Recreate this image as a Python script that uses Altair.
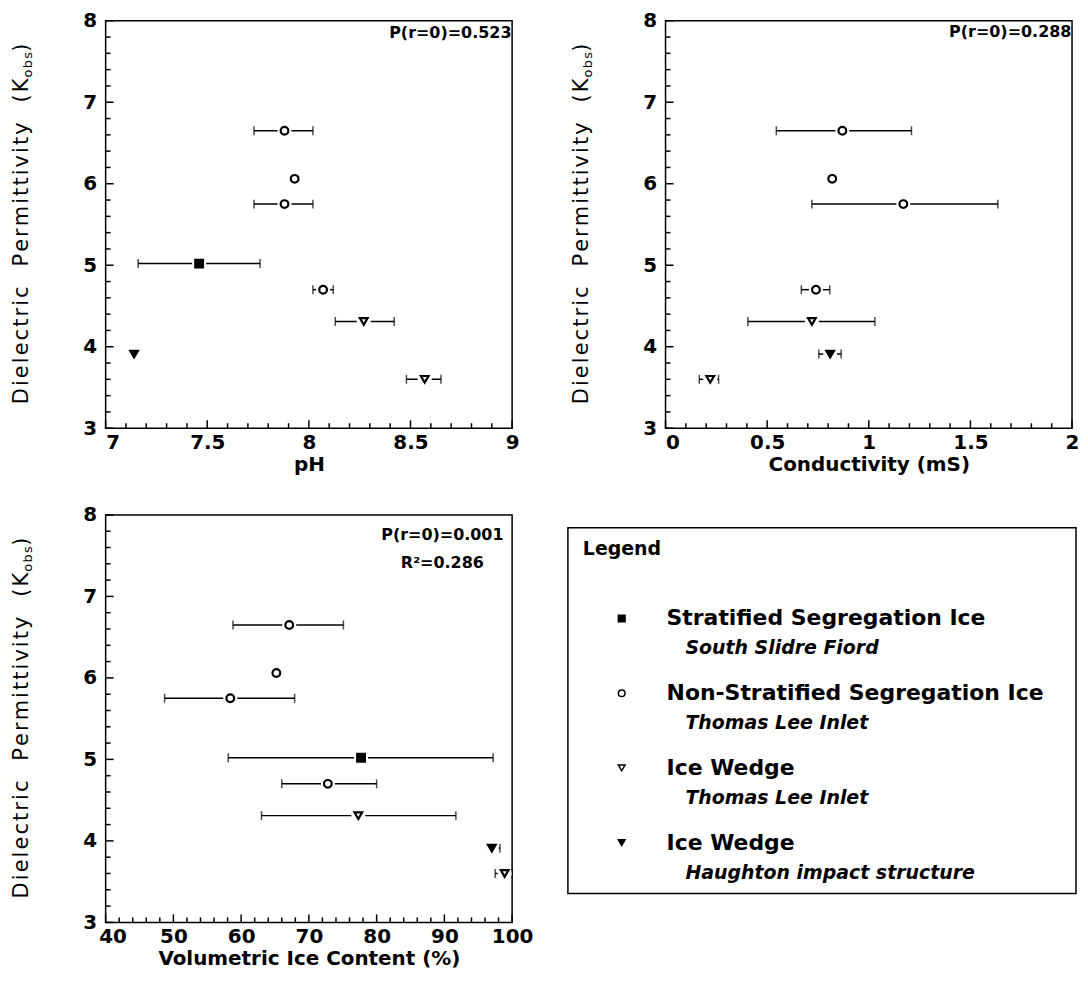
import altair as alt
import pandas as pd

FONT = "DejaVu Sans"

# ---------------- data ----------------
type_keys = ["SS", "NS", "IW", "IWH"]
legend_names = ["Stratified Segregation Ice", "Non-Stratified Segregation Ice", "Ice Wedge", "Ice Wedge"]
legend_sites = ["South Slidre Fiord", "Thomas Lee Inlet", "Thomas Lee Inlet", "Haughton impact structure"]
shape_range = ["square", "circle", "triangle-down", "triangle-down"]
fill_range = ["black", "white", "white", "black"]
size_range = [60, 60, 115, 115]

sample_type = ["NS", "NS", "NS", "SS", "NS", "IW", "IWH", "IW"]
sample_k = [6.65, 6.06, 5.75, 5.02, 4.70, 4.31, 3.91, 3.60]

ph_x = [7.88, 7.93, 7.88, 7.46, 8.07, 8.27, 7.14, 8.57]
ph_lo = [7.73, None, 7.73, 7.16, 8.02, 8.13, None, 8.48]
ph_hi = [8.02, None, 8.02, 7.76, 8.12, 8.42, None, 8.65]

cond_x = [0.87, 0.82, 1.17, None, 0.74, 0.72, 0.81, 0.22]
cond_lo = [0.545, None, 0.72, None, 0.668, 0.405, 0.754, 0.166]
cond_hi = [1.21, None, 1.635, None, 0.808, 1.03, 0.864, 0.261]

ice_x = [67.1, 65.2, 58.4, 77.7, 72.8, 77.3, 97.0, 98.9]
ice_lo = [58.8, None, 48.7, 58.1, 66.0, 63.0, 96.3, 97.5]
ice_hi = [75.1, None, 67.9, 97.2, 80.0, 91.7, 98.2, 100.0]

ph_ticks = [7, 7.5, 8, 8.5, 9]
cond_ticks = [0, 0.5, 1, 1.5, 2]
ice_ticks = [40, 50, 60, 70, 80, 90, 100]
k_ticks = [3, 4, 5, 6, 7, 8]

ph_stats = ["P(r=0)=0.523"]
cond_stats = ["P(r=0)=0.288"]
ice_stats = ["P(r=0)=0.001", "R\u00b2=0.286"]

NB = "\u00a0"
HS = "\u200a"


def spaced(s):
    return HS.join(list(s))


ytitle_main = spaced("Dielectric") + NB * 3 + spaced("Permittivity") + NB * 3 + spaced("(K")
ytitle_sub = spaced("obs")

W, H = 408, 409


def minor_vals(lo, hi, step, majors):
    n = int(round((hi - lo) / step))
    vals = [round(lo + i * step, 4) for i in range(n + 1)]
    return [v for v in vals if all(abs(v - m) > 1e-6 for m in majors)]


def panel(xv, lo, hi, xdom, major, step, xtitle, stats, stats_x, stats_y, yt_x, yt_end):
    df = pd.DataFrame({"type": sample_type, "k": sample_k, "x": xv, "lo": lo, "hi": hi})
    df = df.dropna(subset=["x"])
    err = df.dropna(subset=["lo"])
    xs = alt.Scale(domain=xdom, nice=False, zero=False)
    ys = alt.Scale(domain=[3, 8], nice=False, zero=False)
    xminor = minor_vals(xdom[0], xdom[1], step, major)
    yminor = minor_vals(3, 8, 0.2, k_ticks)

    first_off = {"condition": {"test": "datum.value == %s" % major[0], "value": 7}, "value": 0}
    main_x = alt.Axis(values=major, orient="bottom", labelExpr="datum.value + ''", title=xtitle,
                      domain=False, ticks=False, grid=False, labelFlush=False, labelFontSize=20,
                      labelFontWeight="bold", labelPadding=4, labelOffset=first_off,
                      titleFontSize=20, titleFontWeight="bold",
                      titlePadding=2, labelFont=FONT, titleFont=FONT, labelColor="black",
                      titleColor="black")
    main_y = alt.Axis(values=k_ticks, orient="left", title=None, domain=False, ticks=False, grid=False,
                      labelFlush=False, labelFontSize=20, labelFontWeight="bold", labelPadding=9,
                      labelFont=FONT, labelColor="black")

    rules = alt.Chart(err).mark_rule(strokeWidth=1.5, color="black").encode(
        x=alt.X("lo:Q", scale=xs, axis=main_x),
        x2="hi:Q",
        y=alt.Y("k:Q", scale=ys, axis=main_y),
    )
    caps = alt.Chart(err).transform_fold(["lo", "hi"], as_=["end", "v"]).mark_tick(
        orient="vertical", thickness=1.5, size=9, color="black").encode(
        x=alt.X("v:Q", scale=xs, axis=None),
        y=alt.Y("k:Q", scale=ys, axis=None),
    )
    halo = alt.Chart(df).mark_point(shape="circle", filled=True, color="white", size=200, opacity=1).encode(
        x=alt.X("x:Q", scale=xs, axis=None),
        y=alt.Y("k:Q", scale=ys, axis=None),
    )
    pts = alt.Chart(df).mark_point(filled=True, stroke="black", strokeWidth=2.2, opacity=1).encode(
        x=alt.X("x:Q", scale=xs, axis=None),
        y=alt.Y("k:Q", scale=ys, axis=None),
        shape=alt.Shape("type:N", scale=alt.Scale(domain=type_keys, range=shape_range), legend=None),
        fill=alt.Fill("type:N", scale=alt.Scale(domain=type_keys, range=fill_range), legend=None),
        size=alt.Size("type:N", scale=alt.Scale(domain=type_keys, range=size_range), legend=None),
    )

    # inward tick marks along the bottom and left edges
    def xticks(vals, size):
        return alt.Chart(pd.DataFrame({"v": vals})).mark_rule(strokeWidth=1.5, color="black").encode(
            x=alt.X("v:Q", scale=xs, axis=None), y=alt.value(H), y2=alt.value(H - size))

    def yticks(vals, size):
        return alt.Chart(pd.DataFrame({"v": vals})).mark_rule(strokeWidth=1.5, color="black").encode(
            y=alt.Y("v:Q", scale=ys, axis=None), x=alt.value(0), x2=alt.value(size))

    tick_layers = [xticks(major, 8), xticks(xminor, 5), yticks(k_ticks, 8), yticks(yminor, 5)]

    stat_layers = []
    for i, line in enumerate(stats):
        stat_layers.append(alt.Chart(pd.DataFrame({"t": [line]})).mark_text(
            align="center", baseline="middle", font=FONT, fontSize=16, fontWeight="bold",
            color="black").encode(
            text="t:N", x=alt.value(stats_x), y=alt.value(stats_y + 28 * i)))
    yt1 = alt.Chart(pd.DataFrame({"t": [ytitle_main]})).mark_text(
        angle=270, align="right", baseline="middle", font=FONT, fontSize=21, color="black").encode(
        text="t:N", x=alt.value(yt_x), y=alt.value(yt_end))
    yt2 = alt.Chart(pd.DataFrame({"t": [ytitle_sub]})).mark_text(
        angle=270, align="left", baseline="middle", font=FONT, fontSize=13, color="black").encode(
        text="t:N", x=alt.value(yt_x + 6), y=alt.value(yt_end - 1))
    yt3 = alt.Chart(pd.DataFrame({"t": [")"]})).mark_text(
        angle=270, align="left", baseline="middle", font=FONT, fontSize=21, color="black").encode(
        text="t:N", x=alt.value(yt_x), y=alt.value(yt_end - 27))

    return alt.layer(rules, caps, halo, pts, *tick_layers, *stat_layers, yt1, yt2, yt3).resolve_axis(
        x="independent", y="independent").properties(width=W, height=H)


p1 = panel(ph_x, ph_lo, ph_hi, [7, 9], ph_ticks, 0.1, "pH", ph_stats, W - 62, 12, -84, 58)
p2 = panel(cond_x, cond_lo, cond_hi, [0, 2], cond_ticks, 0.1, "Conductivity (mS)", cond_stats,
           W - 62, 11, -84, 58)
p3 = panel(ice_x, ice_lo, ice_hi, [40, 100], ice_ticks, 2, "Volumetric Ice Content (%)", ice_stats,
           W - 70, 20, -84, 58)

# ---------------- legend panel ----------------
LW, LH = 512, 409
leg_df = pd.DataFrame({"row": list(range(len(type_keys))), "type": type_keys,
                       "name": legend_names, "site": legend_sites})
rowscale = alt.Scale(domain=[0, 3], range=[104, 329])

box = alt.Chart(pd.DataFrame({"a": [0]})).mark_rect(fill="white", stroke="black", strokeWidth=1.5).encode(
    x=alt.value(1), x2=alt.value(LW - 1), y=alt.value(13), y2=alt.value(380))
leg_title = alt.Chart(pd.DataFrame({"t": ["Legend"]})).mark_text(
    align="left", baseline="middle", font=FONT, fontSize=19, fontWeight="bold", color="black").encode(
    text="t:N", x=alt.value(16), y=alt.value(34))
leg_sym = alt.Chart(leg_df).mark_point(filled=True, stroke="black", strokeWidth=1.5, opacity=1).encode(
    x=alt.value(55),
    y=alt.Y("row:Q", scale=rowscale, axis=None),
    shape=alt.Shape("type:N", scale=alt.Scale(domain=type_keys, range=shape_range), legend=None),
    fill=alt.Fill("type:N", scale=alt.Scale(domain=type_keys, range=fill_range), legend=None),
    size=alt.value(45),
)
leg_name = alt.Chart(leg_df).mark_text(
    align="left", baseline="middle", font=FONT, fontSize=22, fontWeight="bold", color="black").encode(
    text="name:N", x=alt.value(100), y=alt.Y("row:Q", scale=rowscale, axis=None))
leg_site = alt.Chart(leg_df).mark_text(
    align="left", baseline="middle", font=FONT, fontSize=19, fontWeight="bold", fontStyle="italic",
    color="black", dy=30).encode(
    text="site:N", x=alt.value(119), y=alt.Y("row:Q", scale=rowscale, axis=None))

legend_panel = alt.layer(box, leg_title, leg_sym, leg_name, leg_site).properties(
    width=LW, height=LH, view=alt.ViewBackground(stroke=None))

top = alt.hconcat(p1, p2, spacing=50)
bottom = alt.hconcat(p3, legend_panel, spacing=33)
chart = alt.vconcat(top, bottom, spacing=29).properties(
    padding={"left": 2, "top": 0, "right": 0, "bottom": 0}, background="white"
).configure_view(stroke="black", strokeWidth=1.5)

chart.save("out.html", embed_options={"renderer": "svg", "actions": False})
